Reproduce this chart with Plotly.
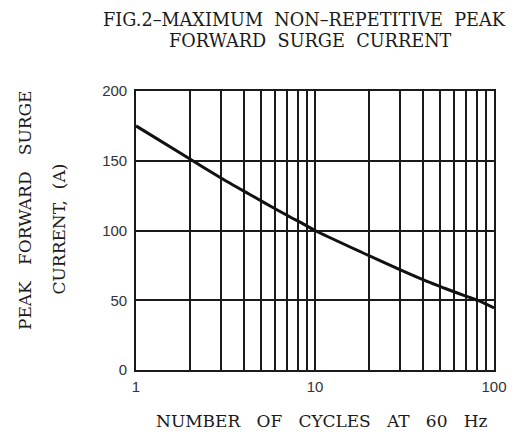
import plotly.graph_objects as go

# Data
cycles = [1, 1.9, 3, 4.3, 5.2, 6.3, 7.3, 8.4, 10, 18.7, 30, 42.6, 53, 63, 73, 82, 91, 100]
current = [175, 153, 137.5, 126, 120, 114, 109.5, 105.5, 100, 83.7, 71.7, 63.3, 58.6, 55, 52, 49.7, 47, 44.5]

x_tickvals = [1, 2, 3, 4, 5, 6, 7, 8, 9, 10, 20, 30, 40, 50, 60, 70, 80, 90, 100]
x_ticktext = ["1"] + [""] * 8 + ["10"] + [""] * 8 + ["100"]
y_tickvals = [0, 50, 100, 150, 200]
y_ticktext = ["0", "50", "100", "150", "200"]

S2 = "\u00a0\u00a0"
S3 = "\u00a0\u00a0\u00a0"
title_line1 = "FIG.2–MAXIMUM" + S2 + "NON–REPETITIVE" + S2 + "PEAK"
title_line2 = "FORWARD" + S2 + "SURGE" + S2 + "CURRENT"
ytitle_line1 = "PEAK" + S3 + "FORWARD" + S3 + "SURGE"
ytitle_line2 = "CURRENT," + S2 + "(A)"
xtitle = "NUMBER" + S3 + "OF" + S3 + "CYCLES" + S3 + "AT" + S3 + "60" + S3 + "Hz"

# page body has an 8px margin: figure is placed at (8, 8) in the window
OFF = 8
W, H = 526 - OFF, 437 - OFF
# plot area in window pixels: x 136..494, y 91..370
L, R, T, B = 136 - OFF, 526 - 494, 91 - OFF, 437 - 370
PH = H - T - B
PW = W - L - R

def px_x(px):
    return (px - OFF - L) / PW

def px_y(py):
    return (H - B - (py - OFF)) / PH

serif = "DejaVu Serif, Liberation Serif, serif"
sans = "Liberation Sans, Arial, sans-serif"

fig = go.Figure()
fig.add_trace(go.Scatter(
    x=cycles, y=current, mode="lines",
    line=dict(color="#111111", width=3, shape="spline", smoothing=0.6),
    hoverinfo="skip", showlegend=False,
))

axis_common = dict(
    showgrid=True, gridcolor="#1a1a1a", gridwidth=1.6,
    showline=True, linecolor="#1a1a1a", linewidth=1.6, mirror=True,
    zeroline=False, ticks="",
    tickfont=dict(family=sans, size=15, color="#333333"),
)

fig.update_xaxes(
    type="log", range=[0, 2], tickmode="array",
    tickvals=x_tickvals, ticktext=x_ticktext, ticklabelstandoff=2,
    **axis_common,
)
fig.update_yaxes(
    range=[0, 200], tickmode="array",
    tickvals=y_tickvals, ticktext=y_ticktext, ticklabelstandoff=4,
    **axis_common,
)

ann_font = dict(family=serif, size=17, color="#1a1a1a")
title_font = dict(family=serif, size=17.7, color="#1a1a1a")
annotations = [
    dict(text=title_line1, x=px_x(304.5), y=px_y(19.5), font=title_font),
    dict(text=title_line2, x=px_x(310), y=px_y(40.5), font=title_font),
    dict(text=xtitle, x=px_x(321.5), y=px_y(421), font=ann_font),
    dict(text=ytitle_line1, x=px_x(24.5), y=px_y(210.5), textangle=-90, font=ann_font),
    dict(text=ytitle_line2, x=px_x(58.5), y=px_y(229), textangle=-90, font=ann_font),
]
for a in annotations:
    a.update(xref="paper", yref="paper", xanchor="center", yanchor="middle",
             showarrow=False)

fig.update_layout(
    width=W, height=H,
    margin=dict(l=L, r=R, t=T, b=B, autoexpand=False),
    paper_bgcolor="white", plot_bgcolor="white",
    annotations=annotations,
)

fig.write_html("out.html")
